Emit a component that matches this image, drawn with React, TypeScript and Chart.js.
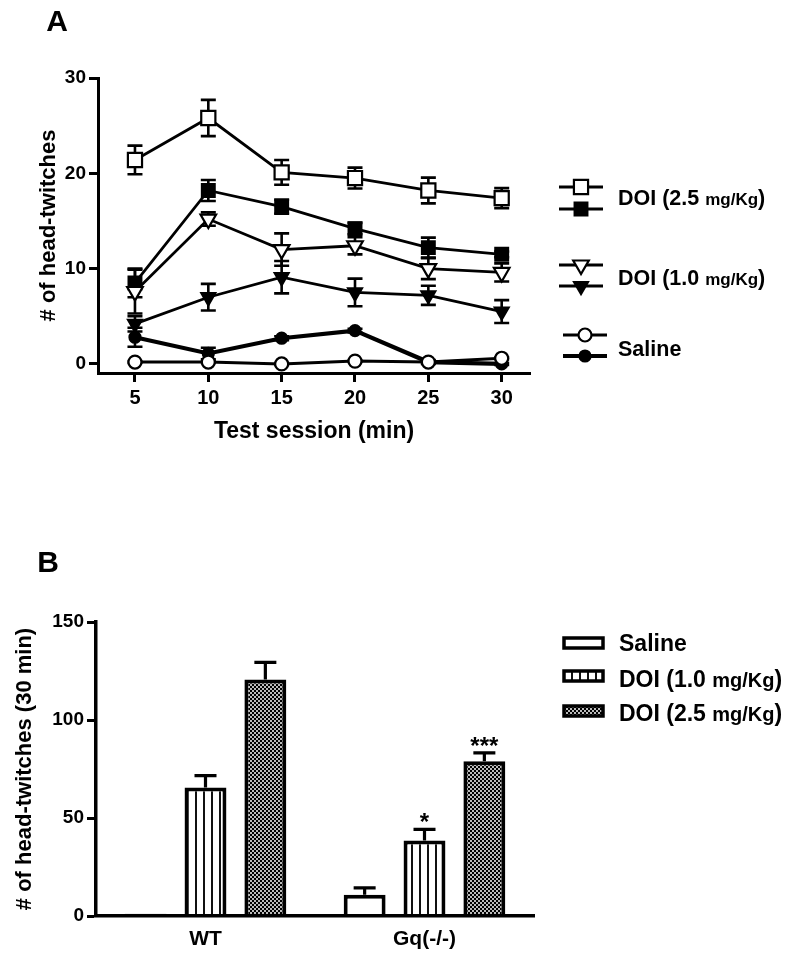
import React, { useEffect, useRef } from "react";
import { Chart, registerables } from "chart.js";
Chart.register(...registerables);

const FONT = "'Liberation Sans', Arial, Helvetica, sans-serif";

// ---------------- Panel A data ----------------
const panelLabelA = "A";
const minutes = [5, 10, 15, 20, 25, 30];
const xTicksA = [5, 10, 15, 20, 25, 30];
const yTicksA = [0, 10, 20, 30];
const xTitleA = "Test session (min)";
const yTitleA = "# of head-twitches";
const legendLabelsA = ["DOI (2.5 mg/Kg)", "DOI (1.0 mg/Kg)", "Saline"];

const doi25WT = [21.4, 25.8, 20.1, 19.5, 18.2, 17.4];
const doi25WTErr = [1.5, 1.9, 1.3, 1.1, 1.35, 1.05];
const doi25Gq = [8.5, 18.2, 16.5, 14.2, 12.2, 11.5];
const doi25GqErr = [1.5, 1.1, 0.75, 0.6, 1.05, 0.3];
const doi10WT = [7.6, 15.2, 12.0, 12.4, 10.0, 9.6];
const doi10WTErr = [2.3, 0.7, 1.7, 0.9, 1.1, 0.95];
const doi10Gq = [4.2, 7.0, 9.1, 7.5, 7.2, 5.5];
const doi10GqErr = [0.8, 1.4, 1.7, 1.45, 1.0, 1.2];
const salineWT = [0.2, 0.2, 0.0, 0.3, 0.2, 0.6];
const salineWTErr = [0.1, 0.1, 0.1, 0.1, 0.1, 0.1];
const salineGq = [2.8, 1.1, 2.7, 3.5, 0.2, 0.0];
const salineGqErr = [1.0, 0.6, 0.2, 0.2, 0.2, 0.1];

// ---------------- Panel B data ----------------
const panelLabelB = "B";
const groupsB = ["WT", "Gq(-/-)"];
const yTicksB = [0, 50, 100, 150];
const yTitleB = "# of head-twitches (30 min)";
const legendLabelsB = ["Saline", "DOI (1.0 mg/Kg)", "DOI (2.5 mg/Kg)"];
const salineB = [1.2, 10.8];
const salineBErr = [0, 3.6];
const doi10B = [65.5, 38.5];
const doi10BErr = [6.1, 5.7];
const doi25B = [120.7, 79];
const doi25BErr = [8.7, 4.2];
const sigDoi10B = ["", "*"];
const sigDoi25B = ["", "***"];

// ---------------- helpers ----------------
function splitLabel(label: string) {
  const m = label.match(/^(.*) (mg\/Kg)\)$/);
  if (!m) return { main: label, unit: "", close: "" };
  return { main: m[1] + " ", unit: m[2], close: ")" };
}

function drawLegendText(ctx: CanvasRenderingContext2D, label: string, x: number, cy: number, big: number, small: number) {
  const p = splitLabel(label);
  const base = cy + 0.358 * big;
  ctx.textAlign = "left";
  ctx.textBaseline = "alphabetic";
  ctx.fillStyle = "#000";
  ctx.font = `bold ${big}px ${FONT}`;
  ctx.fillText(p.main, x, base);
  x += ctx.measureText(p.main).width;
  if (p.unit) {
    ctx.font = `bold ${small}px ${FONT}`;
    ctx.fillText(p.unit, x, base);
    x += ctx.measureText(p.unit).width;
    ctx.font = `bold ${big}px ${FONT}`;
    ctx.fillText(p.close, x, base);
  }
}

function drawMarker(ctx: CanvasRenderingContext2D, style: string, x: number, y: number, r: number, filled: boolean) {
  ctx.beginPath();
  if (style === "rect") {
    const s = r * Math.SQRT1_2;
    ctx.rect(x - s, y - s, 2 * s, 2 * s);
  } else if (style === "circle") {
    ctx.arc(x, y, r, 0, Math.PI * 2);
  } else {
    ctx.moveTo(x, y + r);
    ctx.lineTo(x - 0.866 * r, y - 0.5 * r);
    ctx.lineTo(x + 0.866 * r, y - 0.5 * r);
    ctx.closePath();
  }
  ctx.fillStyle = filled ? "#000" : "#fff";
  ctx.fill();
  ctx.lineWidth = 2.2;
  ctx.strokeStyle = "#000";
  ctx.stroke();
}

function makeStripePattern(ctx: CanvasRenderingContext2D) {
  const c = document.createElement("canvas");
  c.width = 8;
  c.height = 8;
  const g = c.getContext("2d")!;
  g.fillStyle = "#fff";
  g.fillRect(0, 0, 8, 8);
  g.fillStyle = "#111";
  g.fillRect(3, 0, 2, 8);
  return ctx.createPattern(c, "repeat")!;
}

function makeCheckerPattern(ctx: CanvasRenderingContext2D) {
  const c = document.createElement("canvas");
  c.width = 4;
  c.height = 4;
  const g = c.getContext("2d")!;
  g.fillStyle = "#bbb";
  g.fillRect(0, 0, 4, 4);
  g.fillStyle = "#000";
  g.fillRect(0, 0, 2, 2);
  g.fillRect(2, 2, 2, 2);
  return ctx.createPattern(c, "repeat")!;
}

const axisFont = (size: number) => ({ family: FONT, size, weight: "bold" as const });

export default function App() {
  const refA = useRef<HTMLCanvasElement>(null);
  const refB = useRef<HTMLCanvasElement>(null);

  useEffect(() => {
    Chart.defaults.font.family = FONT;
    Chart.defaults.color = "#000";

    // ---------- Chart A ----------
    const mk = (vals: number[]) => minutes.map((m, i) => ({ x: m, y: vals[i] }));
    const lineDs = (label: string, vals: number[], errs: number[], style: string, filled: boolean, radius: number, lw: number, rotation = 0) => ({
      label,
      data: mk(vals),
      errors: errs,
      borderColor: "#000",
      borderWidth: lw,
      backgroundColor: filled ? "#000" : "#fff",
      pointStyle: style,
      pointRadius: radius,
      pointHoverRadius: radius,
      pointBackgroundColor: filled ? "#000" : "#fff",
      pointBorderColor: "#000",
      pointBorderWidth: 2.2,
      pointRotation: rotation,
      tension: 0,
      fill: false,
      clip: false,
    });

    const errPluginA = {
      id: "errA",
      beforeDatasetsDraw(chart: any) {
        const ctx = chart.ctx;
        const xs = chart.scales.x;
        const ys = chart.scales.y;
        ctx.save();
        ctx.strokeStyle = "#000";
        ctx.lineWidth = 2.6;
        chart.data.datasets.forEach((ds: any) => {
          if (!ds.errors) return;
          ds.data.forEach((pt: any, j: number) => {
            const e = ds.errors[j];
            const px = xs.getPixelForValue(pt.x);
            const t = ys.getPixelForValue(pt.y + e);
            const b = ys.getPixelForValue(pt.y - e);
            ctx.beginPath();
            ctx.moveTo(px, t);
            ctx.lineTo(px, b);
            ctx.moveTo(px - 7.5, t);
            ctx.lineTo(px + 7.5, t);
            ctx.moveTo(px - 7.5, b);
            ctx.lineTo(px + 7.5, b);
            ctx.stroke();
          });
        });
        ctx.restore();
      },
    };

    const legendPluginA = {
      id: "legA",
      afterDraw(chart: any) {
        const ctx = chart.ctx;
        ctx.save();
        ctx.fillStyle = "#000";
        ctx.font = `bold 30px ${FONT}`;
        ctx.textAlign = "center";
        ctx.textBaseline = "middle";
        ctx.fillText(panelLabelA, 57, 23);
        const rows = [
          { style: "rect", r1: 10, r2: 9, y1: 187, y2: 209, ty: 197, lw1: 2.8, lw2: 2.8, x0: 559, x1: 603 },
          { style: "tri", r1: 9, r2: 8, y1: 265, y2: 286, ty: 277, lw1: 2.8, lw2: 2.8, x0: 559, x1: 603 },
          { style: "circle", r1: 6.5, r2: 5.5, y1: 335, y2: 356, ty: 348, lw1: 3, lw2: 4, x0: 563, x1: 607 },
        ];
        rows.forEach((r, i) => {
          const cx = (r.x0 + r.x1) / 2;
          ctx.strokeStyle = "#000";
          ctx.lineWidth = r.lw1;
          ctx.beginPath();
          ctx.moveTo(r.x0, r.y1);
          ctx.lineTo(r.x1, r.y1);
          ctx.stroke();
          drawMarker(ctx, r.style, cx, r.y1, r.r1, false);
          ctx.lineWidth = r.lw2;
          ctx.beginPath();
          ctx.moveTo(r.x0, r.y2);
          ctx.lineTo(r.x1, r.y2);
          ctx.stroke();
          drawMarker(ctx, r.style, cx, r.y2, r.r2, true);
          drawLegendText(ctx, legendLabelsA[i], 618, r.ty, 21.5, 17);
        });
        ctx.restore();
      },
    };

    const chartA = new Chart(refA.current!, {
      type: "line",
      data: {
        datasets: [
          lineDs(legendLabelsA[2] + " WT", salineWT, salineWTErr, "circle", false, 6.5, 3),
          lineDs(legendLabelsA[2] + " Gq(-/-)", salineGq, salineGqErr, "circle", true, 5.5, 4.2),
          lineDs(legendLabelsA[1] + " WT", doi10WT, doi10WTErr, "triangle", false, 9, 2.8, 180),
          lineDs(legendLabelsA[1] + " Gq(-/-)", doi10Gq, doi10GqErr, "triangle", true, 8, 2.8, 180),
          lineDs(legendLabelsA[0] + " WT", doi25WT, doi25WTErr, "rect", false, 10, 2.8),
          lineDs(legendLabelsA[0] + " Gq(-/-)", doi25Gq, doi25GqErr, "rect", true, 9, 2.8),
        ] as any,
      },
      options: {
        animation: false,
        responsive: true,
        maintainAspectRatio: false,
        events: [],
        layout: { padding: { left: 0, top: 78, right: 270, bottom: 0 } },
        plugins: { legend: { display: false }, tooltip: { enabled: false } },
        scales: {
          x: {
            type: "linear",
            min: 2.48,
            max: 31.93,
            afterBuildTicks: (s: any) => {
              s.ticks = xTicksA.map((v) => ({ value: v }));
            },
            afterFit: (s: any) => {
              s.height = 107;
            },
            grid: { drawOnChartArea: false, drawTicks: true, tickLength: 9, tickWidth: 3, tickColor: "#000" },
            border: { display: true, color: "#000", width: 3 },
            ticks: { color: "#000", font: axisFont(20), padding: 4, autoSkip: false, maxRotation: 0 },
            title: { display: true, text: xTitleA, color: "#000", font: axisFont(23), padding: { top: 0, bottom: 35 } },
          },
          y: {
            type: "linear",
            min: -0.95,
            max: 30,
            afterBuildTicks: (s: any) => {
              s.ticks = yTicksA.map((v) => ({ value: v }));
            },
            afterFit: (s: any) => {
              s.width = 98;
            },
            grid: { drawOnChartArea: false, drawTicks: true, tickLength: 9, tickWidth: 3, tickColor: "#000" },
            border: { display: true, color: "#000", width: 3 },
            ticks: { color: "#000", font: axisFont(19), padding: 3 },
            title: { display: true, text: yTitleA, color: "#000", font: axisFont(22), padding: { top: 36, bottom: 0 } },
          },
        },
      } as any,
      plugins: [errPluginA, legendPluginA],
    });

    // ---------- Chart B ----------
    const ctxB = refB.current!.getContext("2d")!;
    const stripe = makeStripePattern(ctxB);
    const checker = makeCheckerPattern(ctxB);
    const fillsB = ["#fff", stripe, checker];

    const errPluginB = {
      id: "errB",
      afterDatasetsDraw(chart: any) {
        const ctx = chart.ctx;
        const ys = chart.scales.y;
        ctx.save();
        ctx.strokeStyle = "#000";
        ctx.fillStyle = "#000";
        ctx.lineWidth = 3.2;
        chart.data.datasets.forEach((ds: any, i: number) => {
          const meta = chart.getDatasetMeta(i);
          ds.data.forEach((v: number, j: number) => {
            const e = ds.errors[j];
            const bar = meta.data[j];
            const px = bar.x;
            const t = ys.getPixelForValue(v + e);
            const b = ys.getPixelForValue(v);
            if (e > 0) {
              ctx.beginPath();
              ctx.moveTo(px, b);
              ctx.lineTo(px, t);
              ctx.moveTo(px - 11, t);
              ctx.lineTo(px + 11, t);
              ctx.stroke();
            }
            const sig = ds.sig ? ds.sig[j] : "";
            if (sig) {
              ctx.font = `bold 24px ${FONT}`;
              ctx.textAlign = "center";
              ctx.textBaseline = "alphabetic";
              ctx.fillText(sig, px, t + 1);
            }
          });
        });
        ctx.restore();
      },
    };

    const legendPluginB = {
      id: "legB",
      afterDraw(chart: any) {
        const ctx = chart.ctx;
        ctx.save();
        ctx.fillStyle = "#000";
        ctx.font = `bold 30px ${FONT}`;
        ctx.textAlign = "center";
        ctx.textBaseline = "middle";
        ctx.fillText(panelLabelB, 48, 84);
        const rows = [
          { by: 163, ty: 163 },
          { by: 196, ty: 199 },
          { by: 231, ty: 233 },
        ];
        rows.forEach((r, i) => {
          ctx.fillStyle = fillsB[i] as any;
          ctx.fillRect(564, r.by - 5, 39, 10);
          ctx.strokeStyle = "#000";
          ctx.lineWidth = 3.5;
          ctx.strokeRect(564, r.by - 5, 39, 10);
          drawLegendText(ctx, legendLabelsB[i], 619, r.ty, 23, 20);
        });
        ctx.restore();
      },
    };

    const barDs = (label: string, vals: number[], errs: number[], fill: any, sig?: string[]) => ({
      label,
      data: vals,
      errors: errs,
      sig,
      backgroundColor: fill,
      borderColor: "#000",
      borderWidth: 4,
      categoryPercentage: 0.82,
      barPercentage: 0.7,
    });

    const chartB = new Chart(refB.current!, {
      type: "bar",
      data: {
        labels: groupsB,
        datasets: [
          barDs(legendLabelsB[0], salineB, salineBErr, fillsB[0]),
          barDs(legendLabelsB[1], doi10B, doi10BErr, fillsB[1], sigDoi10B),
          barDs(legendLabelsB[2], doi25B, doi25BErr, fillsB[2], sigDoi25B),
        ] as any,
      },
      options: {
        animation: false,
        responsive: true,
        maintainAspectRatio: false,
        events: [],
        layout: { padding: { left: 0, top: 142, right: 266, bottom: 0 } },
        plugins: { legend: { display: false }, tooltip: { enabled: false } },
        scales: {
          x: {
            type: "category",
            afterFit: (s: any) => {
              s.height = 44;
            },
            grid: { display: true, drawOnChartArea: false, drawTicks: false },
            border: { display: true, color: "#000", width: 3.5, z: 1 },
            ticks: { color: "#000", font: axisFont(21), padding: 11 },
          },
          y: {
            type: "linear",
            min: 0,
            max: 150,
            afterBuildTicks: (s: any) => {
              s.ticks = yTicksB.map((v) => ({ value: v }));
            },
            afterFit: (s: any) => {
              s.width = 96;
            },
            grid: { drawOnChartArea: false, drawTicks: true, tickLength: 9, tickWidth: 3, tickColor: "#000" },
            border: { display: true, color: "#000", width: 3.5 },
            ticks: { color: "#000", font: axisFont(19), padding: 3 },
            title: { display: true, text: yTitleB, color: "#000", font: axisFont(22), padding: { top: 12, bottom: 0 } },
          },
        },
      } as any,
      plugins: [errPluginB, legendPluginB],
    });

    return () => {
      chartA.destroy();
      chartB.destroy();
    };
  }, []);

  return (
    <div style={{ position: "absolute", left: 0, top: 0, width: 800, height: 960, background: "#fff" }}>
      <div style={{ position: "absolute", left: 0, top: 0, width: 800, height: 480 }}>
        <canvas ref={refA} />
      </div>
      <div style={{ position: "absolute", left: 0, top: 480, width: 800, height: 480 }}>
        <canvas ref={refB} />
      </div>
    </div>
  );
}
